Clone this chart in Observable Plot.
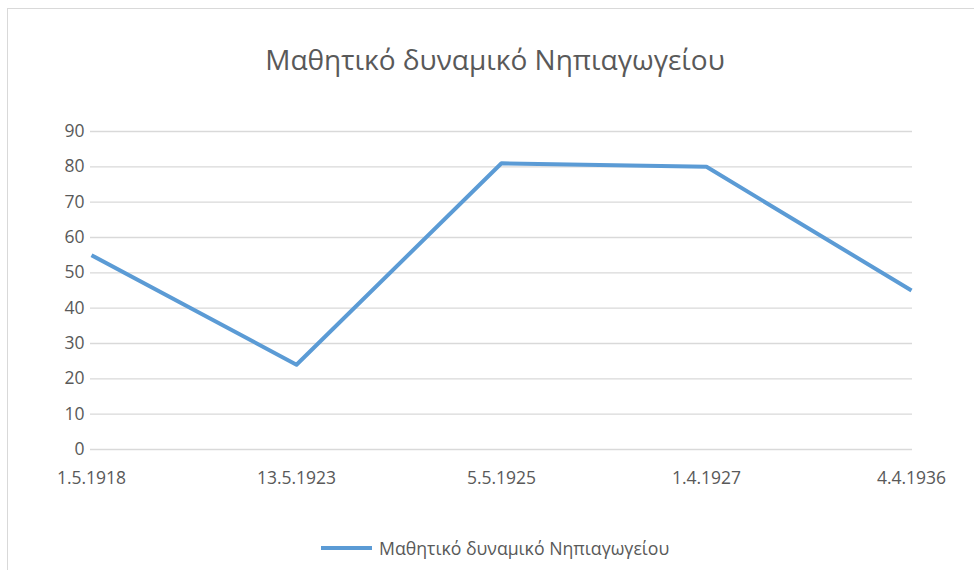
<!DOCTYPE html>
<html>
<head>
<meta charset="utf-8">
<script src="https://cdn.jsdelivr.net/npm/d3@7"></script>
<script src="https://cdn.jsdelivr.net/npm/@observablehq/plot@0.6"></script>
<style>
  body { margin: 0; background: #fff; }
  #wrap { position: relative; width: 974px; height: 570px; overflow: hidden; background: #fff; font-family: "Open Sans", sans-serif; }
  #frame { position: absolute; left: 7px; top: 8px; width: 1000px; height: 600px; border: 1.5px solid #d9d9d9; box-sizing: border-box; }
  #chart { position: absolute; left: 0; top: 0; }
  #title { position: absolute; left: 0; width: 990px; top: 40px; text-align: center; font-size: 28px; color: #595959; white-space: nowrap; }
  #legend { position: absolute; top: 536px; left: 321px; display: flex; align-items: center; font-size: 17.7px; color: #595959; white-space: nowrap; }
  #legend .sw { width: 51px; height: 4px; background: #5B9BD5; margin-right: 7px; }
</style>
</head>
<body>
<div id="wrap">
  <div id="frame"></div>
  <div id="chart"></div>
  <div id="title">Μαθητικό δυναμικό Νηπιαγωγείου</div>
  <div id="legend"><div class="sw"></div><span>Μαθητικό δυναμικό Νηπιαγωγείου</span></div>
</div>
<script>
const dates = ["1.5.1918", "13.5.1923", "5.5.1925", "1.4.1927", "4.4.1936"];
const students = [55, 24, 81, 80, 45];
const yTicks = [0, 10, 20, 30, 40, 50, 60, 70, 80, 90];

const data = dates.map((d, i) => ({date: d, value: students[i]}));

const chart = Plot.plot({
  width: 974,
  height: 570,
  marginLeft: 90,
  marginRight: 62,
  marginTop: 131,
  marginBottom: 121,
  style: {fontFamily: "'Open Sans', sans-serif", fontSize: "17.5px", color: "#595959", background: "transparent", overflow: "visible"},
  x: {type: "point", domain: dates, padding: 0},
  y: {domain: [0, 90]},
  marks: [
    Plot.ruleY(yTicks, {stroke: "#d9d9d9", strokeWidth: 1.3}),
    Plot.axisY({ticks: yTicks, tickSize: 0, tickPadding: 6, label: null, fill: "#595959"}),
    Plot.axisX({tickSize: 0, tickPadding: 22, label: null, fill: "#595959"}),
    Plot.line(data, {x: "date", y: "value", stroke: "#5B9BD5", strokeWidth: 4, strokeLinejoin: "round", strokeLinecap: "butt"})
  ]
});
document.getElementById("chart").appendChild(chart);
</script>
</body>
</html>
